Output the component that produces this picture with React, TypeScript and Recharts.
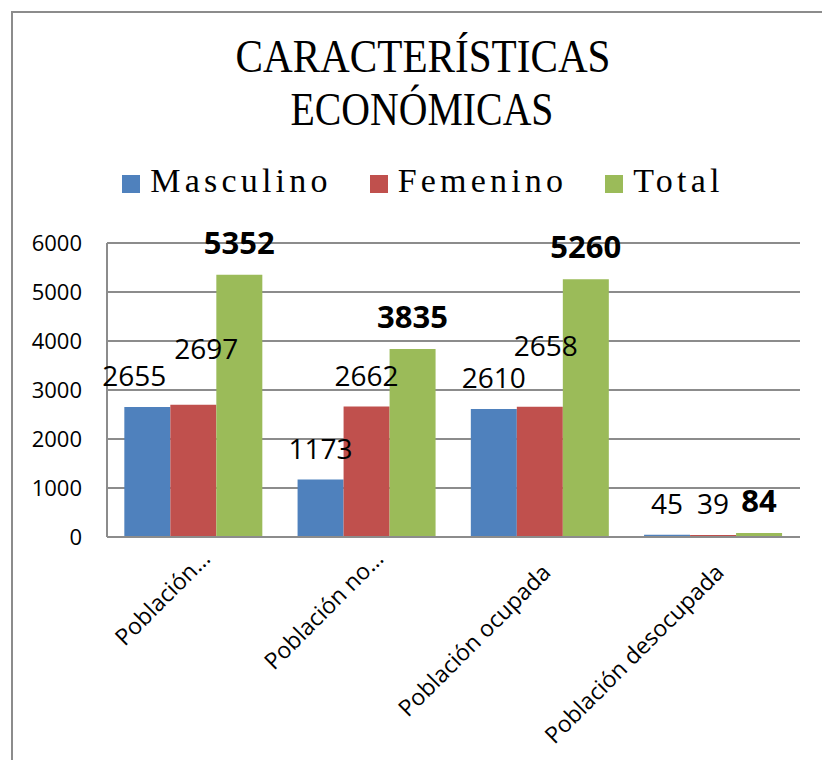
import React from 'react';
import { BarChart, Bar, XAxis, YAxis, CartesianGrid, Legend, LabelList } from 'recharts';

const categories = ['Población…', 'Población no…', 'Población ocupada', 'Población desocupada'];
const seriesNames = ['Masculino', 'Femenino', 'Total'];
const masculino = [2655, 1173, 2610, 45];
const femenino = [2697, 2662, 2658, 39];
const total = [5352, 3835, 5260, 84];
const yTicks = [0, 1000, 2000, 3000, 4000, 5000, 6000];

const rows = categories.map((name, i) => ({
  name,
  masculino: masculino[i],
  femenino: femenino[i],
  total: total[i],
}));

const GRID = '#8c8c8c';

// a few labels were dragged by hand in the original to avoid overlaps
const labelNudge: Record<string, [number, number]> = {
  'Población…|Masculino': [-13, 0],
  'Población…|Femenino': [13, -25],
  'Población ocupada|Femenino': [6, -30],
};

const makeLabel = (series: string, bold: boolean) => (props: any) => {
  const box = props.viewBox ?? props;
  const x = Number(box.x ?? props.x);
  const y = Number(box.y ?? props.y);
  const w = Number(box.width ?? props.width);
  const cat = categories[props.index];
  const [dx, dy] = labelNudge[`${cat}|${series}`] ?? [0, 0];
  return (
    <text
      x={x + w / 2 + dx}
      y={y - 21 + dy}
      textAnchor="middle"
      fontFamily="Open Sans"
      fontSize={bold ? 31 : 28}
      fontWeight={bold ? 700 : 400}
      fill="#000"
    >
      {props.value}
    </text>
  );
};

const CategoryTick = (props: any) => {
  const { x, y, payload } = props;
  const truncated = String(payload.value).endsWith('…');
  const ax = x + (truncated ? 18 : 12);
  const ay = y + (truncated ? 21 : 35);
  return (
    <text
      x={ax}
      y={ay}
      transform={`rotate(-45, ${ax}, ${ay})`}
      textAnchor="end"
      fontFamily="Open Sans"
      fontSize={23}
      fill="#000"
    >
      {payload.value}
    </text>
  );
};

const LegendRow = (props: any) => {
  const items = [...(props.payload || [])].sort(
    (a: any, b: any) => seriesNames.indexOf(a.value) - seriesNames.indexOf(b.value)
  );
  return (
    <div style={{ height: 40, display: 'flex', justifyContent: 'center', alignItems: 'flex-start' }}>
      {items.map((item: any, i: number) => (
        <div key={item.value} style={{ display: 'flex', alignItems: 'flex-start', marginLeft: i === 0 ? 0 : 38 }}>
          <div style={{ width: 18, height: 18, marginTop: 10, marginRight: 10, background: item.color }} />
          <span
            style={{
              fontFamily: '"Liberation Serif", serif',
              fontSize: 34,
              lineHeight: '32px',
              letterSpacing: 4.2,
              color: '#000',
            }}
          >
            {item.value}
          </span>
        </div>
      ))}
    </div>
  );
};

export default function App() {
  return (
    <div style={{ position: 'absolute', left: 0, top: 0, width: 822, height: 760, overflow: 'hidden', background: '#fff' }}>
      <div style={{ position: 'absolute', left: 11, top: 11, width: 900, height: 900, border: `2px solid ${GRID}` }} />
      <svg width={822} height={150} style={{ position: 'absolute', left: 0, top: 0 }}>
        <text x={423} y={72} textAnchor="middle" fontFamily="Liberation Serif" fontSize={46} textLength={375} lengthAdjust="spacingAndGlyphs">
          CARACTERÍSTICAS
        </text>
        <text x={422} y={125} textAnchor="middle" fontFamily="Liberation Serif" fontSize={46} textLength={263} lengthAdjust="spacingAndGlyphs">
          ECONÓMICAS
        </text>
      </svg>
      <div style={{ position: 'absolute', left: 0, top: 0 }}>
        <BarChart
          width={822}
          height={760}
          data={rows}
          margin={{ top: 203, right: 22, bottom: 23, left: 17 }}
          barCategoryGap="10%"
          barGap={0}
        >
          <CartesianGrid vertical={false} stroke={GRID} strokeWidth={2} />
          <XAxis
            dataKey="name"
            height={200}
            interval={0}
            tickLine={false}
            tickSize={0}
            axisLine={{ stroke: GRID, strokeWidth: 2 }}
            tick={<CategoryTick />}
          />
          <YAxis
            width={90}
            domain={[0, 6000]}
            ticks={yTicks}
            interval={0}
            tickLine={false}
            tickSize={0}
            tickMargin={25}
            axisLine={{ stroke: GRID, strokeWidth: 2 }}
            tick={{ fontFamily: 'Open Sans', fontSize: 22, fill: '#000' }}
          />
          <Legend
            verticalAlign="top"
            align="center"
            content={<LegendRow />}
            wrapperStyle={{ top: 165, left: 12, width: 822 }}
          />
          <Bar dataKey="masculino" name="Masculino" fill="#4F81BD" isAnimationActive={false}>
            <LabelList dataKey="masculino" content={makeLabel('Masculino', false)} />
          </Bar>
          <Bar dataKey="femenino" name="Femenino" fill="#C0504D" isAnimationActive={false}>
            <LabelList dataKey="femenino" content={makeLabel('Femenino', false)} />
          </Bar>
          <Bar dataKey="total" name="Total" fill="#9BBB59" isAnimationActive={false}>
            <LabelList dataKey="total" content={makeLabel('Total', true)} />
          </Bar>
        </BarChart>
      </div>
    </div>
  );
}
